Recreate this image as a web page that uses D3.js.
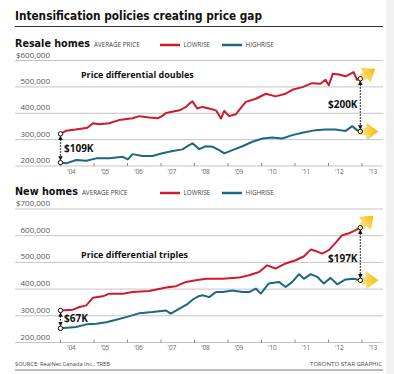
<!DOCTYPE html>
<html>
<head>
<meta charset="utf-8">
<script src="https://cdn.jsdelivr.net/npm/d3@7"></script>
<style>
  body { margin: 0; background: #fff; }
  svg { display: block; }
</style>
</head>
<body>
<svg width="394" height="374"></svg>
<script>
// values in thousands of dollars, [year, price]
const resaleLowrise = [
    [2004.0, 322], [2004.17, 334], [2004.45, 338], [2004.66, 342], [2004.8, 345], [2004.97, 362],
    [2005.15, 358], [2005.45, 362], [2005.75, 374], [2006.15, 381], [2006.35, 389], [2006.65, 384],
    [2006.9, 381], [2007.03, 389], [2007.15, 401], [2007.55, 411], [2007.75, 424], [2007.84, 436],
    [2007.94, 445], [2008.08, 418], [2008.23, 424], [2008.44, 418], [2008.64, 411], [2008.79, 380],
    [2008.89, 409], [2009.03, 389], [2009.23, 396], [2009.53, 443], [2009.83, 455], [2010.13, 474],
    [2010.42, 464], [2010.72, 474], [2010.92, 489], [2011.22, 499], [2011.51, 514], [2011.76, 512],
    [2011.91, 527], [2012.01, 506], [2012.13, 550], [2012.31, 547], [2012.51, 540], [2012.75, 556],
    [2012.85, 527], [2012.95, 531]
];
const resaleHighrise = [
    [2004.0, 213], [2004.17, 210], [2004.47, 223], [2004.77, 220], [2005.07, 229], [2005.46, 229],
    [2005.86, 235], [2006.01, 225], [2006.15, 245], [2006.45, 238], [2006.74, 238], [2007.04, 248],
    [2007.35, 257], [2007.64, 263], [2007.84, 279], [2007.94, 286], [2008.14, 264], [2008.34, 275],
    [2008.54, 273], [2008.74, 260], [2008.89, 248], [2009.13, 260], [2009.43, 275], [2009.73, 292],
    [2010.03, 304], [2010.32, 308], [2010.62, 304], [2010.92, 317], [2011.22, 326], [2011.61, 336],
    [2011.91, 338], [2012.21, 338], [2012.51, 333], [2012.71, 351], [2012.85, 336], [2012.95, 331]
];
const newLowrise = [
    [2004.0, 320], [2004.37, 323], [2004.57, 333], [2004.77, 339], [2004.97, 368], [2005.26, 373],
    [2005.46, 383], [2005.86, 383], [2006.15, 389], [2006.65, 393], [2007.15, 406], [2007.45, 411],
    [2007.75, 427], [2008.04, 433], [2008.34, 439], [2008.84, 439], [2009.33, 443], [2009.63, 452],
    [2009.93, 464], [2010.17, 489], [2010.42, 477], [2010.72, 496], [2011.02, 508], [2011.27, 523],
    [2011.47, 548], [2011.61, 543], [2011.81, 533], [2012.01, 546], [2012.21, 573], [2012.41, 602],
    [2012.61, 609], [2012.81, 621], [2012.95, 630]
];
const newHighrise = [
    [2004.0, 253], [2004.47, 258], [2004.77, 268], [2005.07, 270], [2005.37, 276], [2005.66, 285],
    [2005.96, 295], [2006.36, 310], [2006.74, 314], [2007.15, 320], [2007.29, 308], [2007.55, 327],
    [2007.8, 345], [2007.96, 362], [2008.1, 372], [2008.24, 377], [2008.44, 370], [2008.64, 389],
    [2008.84, 389], [2009.13, 395], [2009.43, 389], [2009.63, 389], [2009.83, 402], [2009.98, 383],
    [2010.22, 421], [2010.52, 427], [2010.72, 408], [2010.92, 427], [2011.12, 456], [2011.27, 439],
    [2011.47, 456], [2011.66, 446], [2011.86, 421], [2012.06, 442], [2012.26, 418], [2012.51, 436],
    [2012.75, 439], [2012.95, 433]
];

const years = [2004, 2005, 2006, 2007, 2008, 2009, 2010, 2011, 2012, 2013];
const yearLabels = ['’04', '’05', '’06', '’07', '’08', '’09', '’10', '’11', '’12', '’13'];
const resaleTicks = [200, 300, 400, 500, 600];
const newTicks = [200, 300, 400, 500, 600, 700];

const RED = '#cc1a2e';
const BLUE = '#1c6882';
const NARROW = "'Liberation Sans Narrow', 'DejaVu Sans Condensed', sans-serif";
const SANS = "'Open Sans', 'Liberation Sans', sans-serif";

const svg = d3.select('svg');

// shrink or grow a text so it spans the given width
function fitWidth(sel, w) {
    const len = sel.node().getComputedTextLength();
    const fs = parseFloat(sel.attr('font-size'));
    sel.attr('font-size', (fs * w) / len);
    return sel;
}

// light strip on the right edge
svg.append('rect').attr('x', 386).attr('y', 0).attr('width', 8).attr('height', 374).attr('fill', '#f1f1f1');

const defs = svg.append('defs');

const grad = defs
    .append('linearGradient')
    .attr('id', 'arrowGrad')
    .attr('x1', 0)
    .attr('x2', 1)
    .attr('y1', 0)
    .attr('y2', 0);
grad.append('stop').attr('offset', 0).attr('stop-color', '#fff4c8').attr('stop-opacity', 0);
grad.append('stop').attr('offset', 0.45).attr('stop-color', '#fbdc72').attr('stop-opacity', 0.9);
grad.append('stop').attr('offset', 1).attr('stop-color', '#f6b800');

defs.append('marker')
    .attr('id', 'tip')
    .attr('viewBox', '0 0 6 6')
    .attr('refX', 5)
    .attr('refY', 3)
    .attr('markerWidth', 4.5)
    .attr('markerHeight', 4.5)
    .attr('markerUnits', 'userSpaceOnUse')
    .attr('orient', 'auto-start-reverse')
    .append('path')
    .attr('d', 'M0,0 L6,3 L0,6 Z')
    .attr('fill', '#111');

// Title
fitWidth(
    svg.append('text')
        .attr('x', 15)
        .attr('y', 20)
        .attr('font-family', NARROW)
        .attr('font-weight', 700)
        .attr('font-size', 16)
        .attr('fill', '#111')
        .text('Intensification policies creating price gap'),
    247
);

svg.append('line').attr('x1', 15).attr('x2', 383).attr('y1', 26.5).attr('y2', 26.5).attr('stroke', '#333').attr('stroke-width', 1);

const x = d3.scaleLinear().domain([2004, 2013]).range([60.5, 362]);

function drawPanel(opts) {
    const g = svg.append('g');
    const y = d3.scaleLinear().domain(opts.domain).range([opts.bottom, opts.top]);

    // heading
    const head = fitWidth(
        g.append('text')
            .attr('x', 15)
            .attr('y', opts.headY)
            .attr('font-family', NARROW)
            .attr('font-weight', 700)
            .attr('font-size', 13)
            .attr('fill', '#111')
            .text(opts.name),
        opts.nameWidth
    );
    const headEnd = 15 + head.node().getComputedTextLength();
    g.append('text')
        .attr('x', headEnd + 4)
        .attr('y', opts.headY)
        .attr('font-family', SANS)
        .attr('font-size', 6.3)
        .attr('fill', '#444')
        .text('AVERAGE PRICE');

    // legend
    const legend = [
        { label: 'LOWRISE', color: RED, x: 160 },
        { label: 'HIGHRISE', color: BLUE, x: 222 }
    ];
    legend.forEach(function(d) {
        g.append('line')
            .attr('x1', d.x)
            .attr('x2', d.x + 20)
            .attr('y1', opts.headY - 2)
            .attr('y2', opts.headY - 2)
            .attr('stroke', d.color)
            .attr('stroke-width', 2.5);
        g.append('text')
            .attr('x', d.x + 23.5)
            .attr('y', opts.headY)
            .attr('font-family', SANS)
            .attr('font-size', 6.3)
            .attr('fill', '#444')
            .text(d.label);
    });

    // gridlines and y labels
    g.selectAll('.grid')
        .data(opts.ticks)
        .enter()
        .append('line')
        .attr('x1', 15)
        .attr('x2', 383)
        .attr('y1', d => y(d))
        .attr('y2', d => y(d))
        .attr('stroke', '#c4c4c4')
        .attr('stroke-width', 1);

    g.selectAll('.ylab')
        .data(opts.ticks)
        .enter()
        .append('text')
        .attr('x', 50)
        .attr('y', d => y(d) - 3)
        .attr('text-anchor', 'end')
        .attr('font-family', SANS)
        .attr('font-size', 8)
        .attr('fill', '#555')
        .text((d, i) => (i === opts.ticks.length - 1 ? '$' : '') + d3.format(',')(d * 1000));

    // x axis ticks (pointing up) and labels
    g.selectAll('.xtick')
        .data(years)
        .enter()
        .append('line')
        .attr('x1', d => x(d))
        .attr('x2', d => x(d))
        .attr('y1', opts.bottom)
        .attr('y2', opts.bottom - 3)
        .attr('stroke', '#888');

    g.selectAll('.xlab')
        .data(years)
        .enter()
        .append('text')
        .attr('x', d => x(d + 0.33))
        .attr('y', opts.bottom + 7.5)
        .attr('text-anchor', 'middle')
        .attr('font-family', SANS)
        .attr('font-size', 6.5)
        .attr('fill', '#666')
        .text((d, i) => yearLabels[i]);

    const line = d3
        .line()
        .x(d => x(d[0]))
        .y(d => y(d[1]));

    const low = opts.low;
    const high = opts.high;
    const lastLow = low[low.length - 1];
    const lastHigh = high[high.length - 1];

    // yellow arrows at the end of each series
    [
        { p: lastLow, angle: opts.lowAngle },
        { p: lastHigh, angle: 0 }
    ].forEach(function(a) {
        g.append('path')
            .attr('d', 'M-10,-3.5 L6,-3.5 L6,-9 L18,0 L6,9 L6,3.5 L-10,3.5 Z')
            .attr('fill', 'url(#arrowGrad)')
            .attr('transform', `translate(${x(a.p[0])},${y(a.p[1])}) rotate(${a.angle})`);
    });

    g.append('path')
        .datum(high)
        .attr('d', line)
        .attr('fill', 'none')
        .attr('stroke', BLUE)
        .attr('stroke-width', 2)
        .attr('stroke-linejoin', 'round');

    g.append('path')
        .datum(low)
        .attr('d', line)
        .attr('fill', 'none')
        .attr('stroke', RED)
        .attr('stroke-width', 2)
        .attr('stroke-linejoin', 'round');

    // dotted differential markers
    function gap(pLow, pHigh, labelX, labelY, anchor) {
        const xx = x(pLow[0]);
        const y1 = y(pLow[1]);
        const y2 = y(pHigh[1]);
        g.append('line')
            .attr('x1', xx)
            .attr('x2', xx)
            .attr('y1', y1 + 2.5)
            .attr('y2', y2 - 2.5)
            .attr('stroke', '#111')
            .attr('stroke-width', 1.2)
            .attr('stroke-dasharray', '1.5,1.5')
            .attr('marker-start', 'url(#tip)')
            .attr('marker-end', 'url(#tip)');
        [y1, y2].forEach(function(yy) {
            g.append('circle')
                .attr('cx', xx)
                .attr('cy', yy)
                .attr('r', 2.2)
                .attr('fill', '#fff')
                .attr('stroke', '#111')
                .attr('stroke-width', 1);
        });
        g.append('text')
            .attr('x', labelX)
            .attr('y', labelY)
            .attr('text-anchor', anchor)
            .attr('font-family', SANS)
            .attr('font-weight', 700)
            .attr('font-size', 10)
            .attr('fill', '#111')
            .text('$' + Math.round(pLow[1] - pHigh[1]) + 'K');
    }
    gap(low[0], high[0], 64, opts.startLabelY, 'start');
    gap(lastLow, lastHigh, 357.5, opts.endLabelY, 'end');

    // annotation
    fitWidth(
        g.append('text')
            .attr('x', 81)
            .attr('y', opts.noteY)
            .attr('font-family', SANS)
            .attr('font-weight', 700)
            .attr('font-size', 9)
            .attr('fill', '#111')
            .text(opts.note),
        opts.noteWidth
    );
}

drawPanel({
    name: 'Resale homes',
    nameWidth: 75,
    headY: 47,
    domain: [200, 600],
    top: 60.5,
    bottom: 166,
    ticks: resaleTicks,
    low: resaleLowrise,
    high: resaleHighrise,
    lowAngle: -34,
    startLabelY: 151.5,
    endLabelY: 107.5,
    note: 'Price differential doubles',
    noteY: 78,
    noteWidth: 113
});

drawPanel({
    name: 'New homes',
    nameWidth: 63,
    headY: 195,
    domain: [200, 700],
    top: 209,
    bottom: 342.5,
    ticks: newTicks,
    low: newLowrise,
    high: newHighrise,
    lowAngle: -43,
    startLabelY: 321.5,
    endLabelY: 262,
    note: 'Price differential triples',
    noteY: 257.5,
    noteWidth: 107
});

// footer
fitWidth(
    svg.append('text')
        .attr('x', 15)
        .attr('y', 366)
        .attr('font-family', SANS)
        .attr('font-size', 5.5)
        .attr('fill', '#444')
        .text('SOURCE: RealNet Canada Inc., TREB'),
    95
);
fitWidth(
    svg.append('text')
        .attr('x', 382)
        .attr('y', 366)
        .attr('text-anchor', 'end')
        .attr('font-family', SANS)
        .attr('font-size', 6)
        .attr('fill', '#444')
        .text('TORONTO STAR GRAPHIC'),
    72
);
svg.append('line').attr('x1', 15).attr('x2', 383).attr('y1', 370).attr('y2', 370).attr('stroke', '#777').attr('stroke-width', 1);
</script>
</body>
</html>
